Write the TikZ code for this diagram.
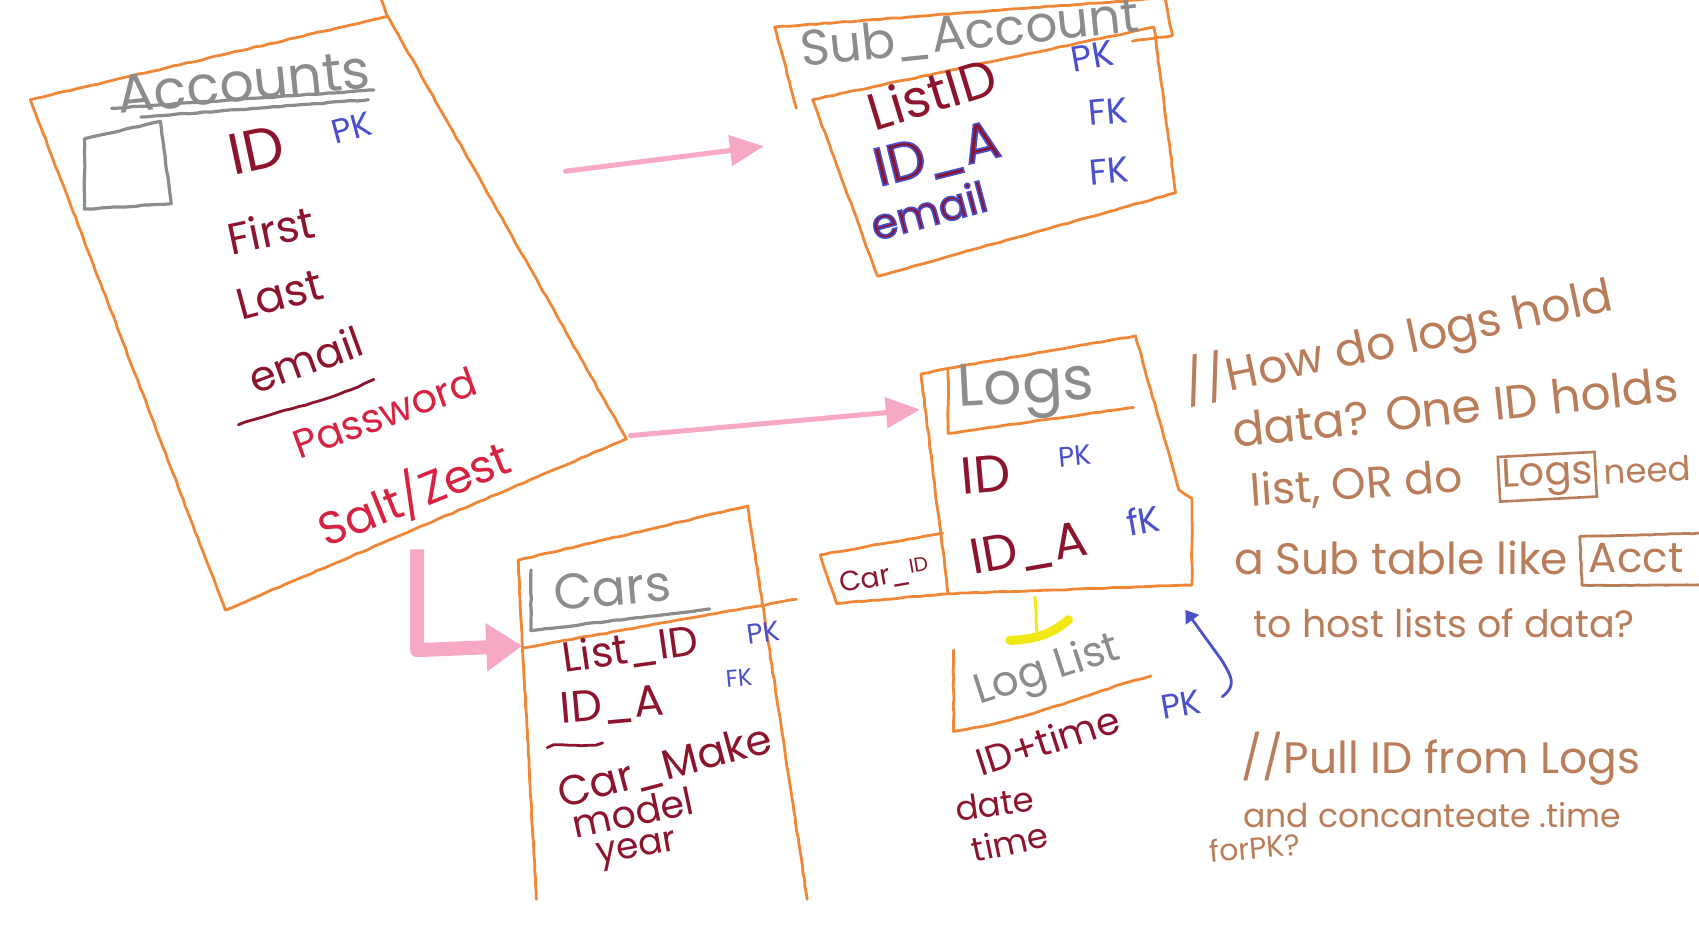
\documentclass[tikz,border=0pt]{standalone}
\usepackage{fontspec}
\setmainfont{Poppins}
\usetikzlibrary{arrows.meta,decorations.pathmorphing}
\definecolor{corange}{RGB}{240,135,55}
\definecolor{cgray}{RGB}{140,140,140}
\definecolor{cdred}{RGB}{140,20,45}
\definecolor{cred}{RGB}{215,35,65}
\definecolor{cblue}{RGB}{75,80,205}
\definecolor{cpink}{RGB}{246,168,196}
\definecolor{cbrown}{RGB}{185,125,90}
\definecolor{cyellow}{RGB}{242,232,20}
\newcommand{\fs}[1]{\fontsize{#1}{#1}\selectfont}
\newcommand{\bstroke}[1]{\special{pdf:literal direct 2 Tr 1.6 w 0.29 0.31 0.80 RG}#1\special{pdf:literal direct 0 Tr}}
\tikzset{
  crayon/.style={line width=2.8pt, line cap=round, line join=round, decorate,
    decoration={random steps, segment length=7pt, amplitude=0.45pt}},
  obox/.style={crayon, draw=corange},
  gline/.style={crayon, draw=cgray, line width=3.2pt},
  lbl/.style={inner sep=0pt, anchor=center},
  ttl/.style={lbl, text=cgray},
  fld/.style={lbl, text=cdred},
  rfld/.style={lbl, text=cred},
  key/.style={lbl, text=cblue},
  note/.style={lbl, text=cbrown},
  parrow/.style={draw=cpink, line width=5pt, line cap=round,
    -{Triangle[length=34pt, width=30pt]}},
}
\begin{document}
\begin{tikzpicture}[x=1.0835pt, y=-1.0835pt]
\pgfmathsetseed{7}
\fill[white] (0,0) rectangle (1568,856);
\useasboundingbox (0,0) rectangle (1568,856);

% ---------------- Accounts ----------------
\draw[obox] (28,92) -- (358,15) -- (578,405) -- (208,563) -- cycle;
\draw[obox] (352,0) -- (357,14);
\draw[gline] (78,128) -- (148,112) -- (158,188) -- (78,193) -- cycle;
\draw[gline] (103,100) -- (345,83);
\draw[gline] (130,108) -- (340,92);
\node[ttl, rotate=6, font=\fs{54}] (acc) at (225,76) {Accounts};
\node[fld, rotate=12, font=\fs{58}] (accid) at (237,138) {ID};
\node[key, rotate=15, font=\fs{34}] (accpk) at (325,118) {PK};
\node[fld, rotate=12, font=\fs{44}] (accfirst) at (250,212) {First};
\node[fld, rotate=15, font=\fs{44}] (acclast) at (258,272) {Last};
\node[fld, rotate=20, font=\fs{42}] (accemail) at (282,332) {email};
\draw[crayon, draw=cdred] (220,392) .. controls (270,375) and (300,372) .. (345,350);
\node[rfld, rotate=20, font=\fs{40}] (accpw) at (355,381) {Password};
\node[rfld, rotate=22, font=\fs{46}] (accsalt) at (382,455) {Salt/Zest};

\coordinate (accR) at (522,158);
\coordinate (accR2) at (582,402);
\coordinate (accB) at (385,507);

% ---------------- Sub_Account ----------------
\draw[obox] (735,100) -- (715,25) -- (1075,-2) -- (1082,33) -- (1045,38);
\draw[obox] (750,92) -- (1065,25) -- (1085,178) -- (810,255) -- cycle;
\node[ttl, rotate=6, font=\fs{50}] (sub) at (895,31) {Sub\_Account};
\node[fld, rotate=17, font=\fs{52}] (sublist) at (860,86) {ListID};
\node[key, rotate=10, font=\fs{36}] (subpk) at (1008,52) {PK};
\node[fld, rotate=14, font=\fs{54}] (subida) at (865,144) {\bstroke{ID\_A}};
\node[key, rotate=5, font=\fs{36}] (subfk1) at (1023,103) {FK};
\node[key, rotate=5, font=\fs{36}] (subfk2) at (1024,158) {FK};
\node[fld, rotate=15, font=\fs{42}] (subemail) at (857,194) {\bstroke{email}};
\coordinate (subL) at (705,135);

% ---------------- Logs ----------------
\draw[obox] (875,340) -- (1048,310) -- (1088,452) -- (1100,460) -- (1100,540) -- (875,548) -- (850,345) -- (875,340) -- (875,400);
\draw[obox] (875,400) -- (1046,376);
\draw[obox] (870,492) -- (757,512) -- (772,557) -- (875,548);
\node[ttl, rotate=3, font=\fs{60}] (logs) at (947,360) {Logs};
\node[fld, rotate=5, font=\fs{52}] (logsid) at (910,438) {ID};
\node[key, rotate=5, font=\fs{28}] (logspk) at (992,421) {PK};
\node[fld, rotate=10, font=\fs{50}] (logsida) at (950,508) {ID\_A};
\node[key, rotate=10, font=\fs{36}] (logsfk) at (1055,480) {fK};
\node[fld, rotate=10, font=\fs{28}] (carid) at (816,532) {Car\_\raisebox{7pt}{\fs{20}ID}};
\coordinate (logsL) at (849,378);
\coordinate (logsB) at (955,551);

% yellow connector
\coordinate (yel) at (957,583);
\draw[crayon, draw=cyellow, line width=3pt] (logsB) -- (yel);
\draw[cyellow, line width=9pt, line cap=round] (932,591) .. controls (958,590) and (972,584) .. (986,572);

% ---------------- Log List ----------------
\node[ttl, rotate=18, font=\fs{42}] (loglist) at (967,620) {Log List};
\draw[obox] (880,600) -- (880,675) .. controls (960,662) and (1000,640) .. (1062,624);
\node[fld, rotate=18, font=\fs{38}] (lltime) at (967,683) {ID+time};
\node[key, rotate=10, font=\fs{34}] (llpk) at (1090,650) {PK};
\node[fld, rotate=8, font=\fs{34}] (lldate) at (918,742) {date};
\node[fld, rotate=12, font=\fs{34}] (lltm) at (932,777) {time};
\coordinate (llR) at (1128,643);
\coordinate (logsBR) at (1094,563);
\draw[cblue, line width=2.8pt, line cap=round, -{Triangle[length=12pt, width=16pt]}]
  (llR) .. controls (1142,632) and (1136,624) .. (1128,610) -- (logsBR);

% ---------------- Cars ----------------
\draw[obox] (495,830) -- (478,517) -- (690,467) -- (745,830);
\draw[obox] (483,598) -- (735,553);
\draw[gline] (490,526) -- (490,582) -- (655,562);
\node[ttl, rotate=5, font=\fs{50}] (cars) at (565,543) {Cars};
\node[fld, rotate=8, font=\fs{42}] (carslist) at (582,600) {List\_ID};
\node[key, rotate=8, font=\fs{28}] (carspk) at (705,584) {PK};
\node[key, rotate=5, font=\fs{24}] (carsfk) at (682,626) {FK};
\node[fld, rotate=5, font=\fs{44}] (carsida) at (565,652) {ID\_A};
\draw[crayon, draw=cdred] (505,690) .. controls (520,684) and (540,692) .. (556,685);
\node[fld, rotate=15, font=\fs{42}] (carsmake) at (614,708) {Car\_Make};
\node[fld, rotate=12, font=\fs{38}] (carsmodel) at (584,750) {model};
\node[fld, rotate=10, font=\fs{36}] (carsyear) at (588,786) {year};
\coordinate (carsL) at (482,596);

% ---------------- pink arrows ----------------
\draw[parrow] (accR) -- (subL);
\draw[parrow] (accR2) -- (logsL);
\draw[draw=cpink, line width=14pt, line join=round, -{Triangle[length=36pt, width=46pt]}]
  (accB) -- (385,600) -- (carsL);

% ---------------- notes ----------------
\node[note, rotate=12, font=\fs{46}] (n1) at (1290,314) {//How do logs hold};
\node[note, rotate=6, font=\fs{47}] (n2) at (1343,376) {data? One ID holds};
\node[note, rotate=4, font=\fs{44}] (n3a) at (1252,448) {list, OR do};
\node[note, rotate=3, font=\fs{40}, draw=cbrown, line width=2.6pt, inner sep=3pt] (n3b) at (1428,440) {Logs};
\node[note, rotate=3, font=\fs{34}] (n3c) at (1520,434) {need};
\node[note, font=\fs{44}] (n4a) at (1293,515) {a Sub table like};
\node[note, font=\fs{42}] (n4b) at (1510,515) {Acct};
\draw[crayon, draw=cbrown] (1575,492) -- (1458,495) -- (1460,540) -- (1575,540);
\node[note, font=\fs{38}] (n5) at (1333,575) {to host lists of data?};
\node[note, font=\fs{44}] (n6) at (1330,700) {//Pull ID from Logs};
\node[note, font=\fs{33}] (n7) at (1322,752) {and concanteate .time};
\node[note, rotate=5, font=\fs{30}] (n8) at (1158,782) {forPK?};
\end{tikzpicture}
\end{document}
